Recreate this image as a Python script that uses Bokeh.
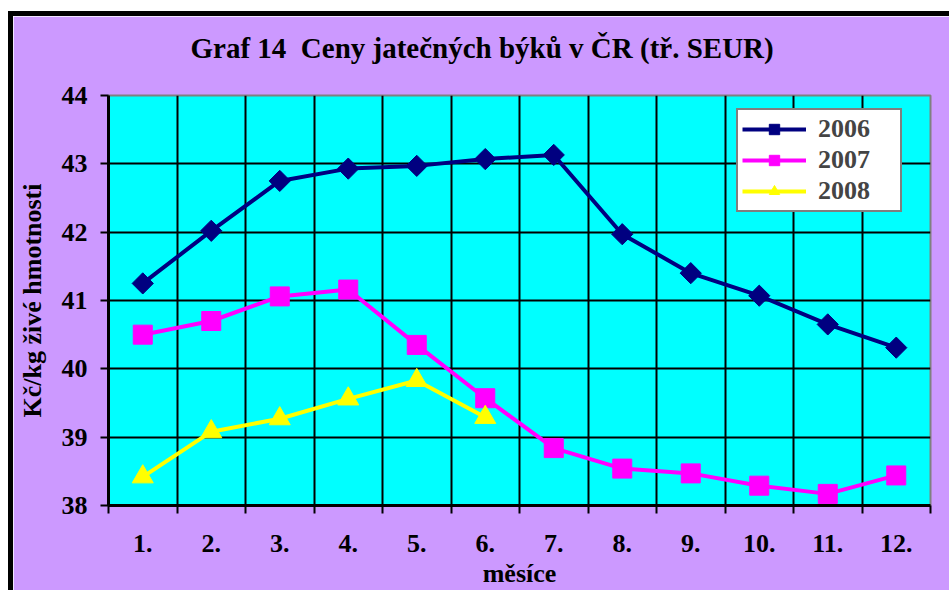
from bokeh.plotting import figure
from bokeh.models import FixedTicker, Legend, LegendItem, Range1d, Title
from bokeh.embed import file_html
from bokeh.resources import INLINE
import math

months = [1, 2, 3, 4, 5, 6, 7, 8, 9, 10, 11, 12]
month_labels = ["1.", "2.", "3.", "4.", "5.", "6.", "7.", "8.", "9.", "10.", "11.", "12."]
y2006 = [41.25, 42.02, 42.75, 42.93, 42.97, 43.07, 43.13, 41.97, 41.40, 41.07, 40.65, 40.31]
y2007 = [40.50, 40.70, 41.06, 41.16, 40.35, 39.57, 38.84, 38.54, 38.47, 38.29, 38.17, 38.44]
months2008 = [1, 2, 3, 4, 5, 6]
y2008 = [38.42, 39.08, 39.27, 39.56, 39.83, 39.29]
y_ticks = [38, 39, 40, 41, 42, 43, 44]

FONT = "Liberation Serif"
BG = "#CC99FF"

p = figure(width=936, height=574, output_backend="svg", toolbar_location=None,
           x_range=Range1d(0.5, 12.5), y_range=Range1d(38, 44),
           min_border_left=95, min_border_right=24, min_border_top=79, min_border_bottom=90)
p.styles = {"border-left": "5px solid black", "border-top": "5px solid black",
            "margin-left": "8px", "margin-top": "11px", "box-sizing": "content-box"}

p.background_fill_color = "#00FFFF"
p.border_fill_color = BG
p.outline_line_color = "#808080"
p.outline_line_width = 2

# real title (outermost panel)
p.title.text = "Graf 14\u00a0 Ceny jatečných býků v ČR (tř. SEUR)"
p.title.text_font = FONT
p.title.text_font_style = "bold"
p.title.text_font_size = "29px"
p.title.text_color = "black"
p.title.align = "left"
p.title.offset = 82
p.title.standoff = 25

# blank spacer panel between the frame and the title
p.add_layout(Title(text="\u00a0", text_color=BG, text_font_size="8px", standoff=8), "above")

# grid
boundaries = [m + 0.5 for m in [0] + months]
p.xgrid.ticker = FixedTicker(ticks=boundaries)
p.ygrid.ticker = FixedTicker(ticks=y_ticks)
for g in (p.xgrid, p.ygrid):
    g.grid_line_color = "black"
    g.grid_line_width = 2
    g.grid_line_alpha = 1

# x axis
xa = p.xaxis[0]
xa.ticker = FixedTicker(ticks=months, minor_ticks=boundaries)
xa.major_label_overrides = {m: l for m, l in zip(months, month_labels)}
xa.major_tick_line_color = None
xa.major_tick_out = 0
xa.major_tick_in = 0
xa.minor_tick_line_color = "black"
xa.minor_tick_line_width = 2
xa.minor_tick_out = 8
xa.minor_tick_in = 0
xa.major_label_standoff = 21
xa.axis_label = "měsíce"
xa.axis_label_standoff = 4

ya = p.yaxis[0]
ya.ticker = FixedTicker(ticks=y_ticks)
ya.minor_tick_line_color = None
ya.major_tick_out = 8
ya.major_tick_in = 0
ya.major_tick_line_width = 2
ya.major_tick_line_color = "black"
ya.major_label_standoff = 13
ya.axis_label = "Kč/kg živé hmotnosti"
ya.axis_label_standoff = 12

for ax in (xa, ya):
    ax.axis_line_color = "black"
    ax.axis_line_width = 3
    ax.major_label_text_font = FONT
    ax.major_label_text_font_style = "bold"
    ax.major_label_text_font_size = "26px"
    ax.major_label_text_color = "black"
    ax.axis_label_text_font = FONT
    ax.axis_label_text_font_style = "bold"
    ax.axis_label_text_color = "black"
xa.axis_label_text_font_size = "26px"
ya.axis_label_text_font_size = "26px"

l1 = p.line(months, y2006, line_color="#000080", line_width=4)
m1 = p.scatter(months, y2006, marker="square", size=15, angle=math.pi / 4,
               fill_color="#000080", line_color="#000080")
l2 = p.line(months, y2007, line_color="#FF00FF", line_width=4)
m2 = p.scatter(months, y2007, marker="square", size=19,
               fill_color="#FF00FF", line_color="#FF00FF")
l3 = p.line(months2008, y2008, line_color="#FFFF00", line_width=4)
m3 = p.scatter(months2008, y2008, marker="triangle", size=21,
               fill_color="#FFFF00", line_color="#FFFF00")

legend = Legend(items=[LegendItem(label="2006", renderers=[l1, m1]),
                       LegendItem(label="2007", renderers=[l2, m2]),
                       LegendItem(label="2008", renderers=[l3, m3])],
                location=(628, 293))
legend.label_text_font = FONT
legend.label_text_font_style = "bold"
legend.label_text_font_size = "26px"
legend.glyph_width = 64
legend.glyph_height = 26
legend.label_height = 26
legend.label_standoff = 12
legend.spacing = 1
legend.padding = 4
legend.label_width = 78
legend.border_line_color = "black"
legend.border_line_width = 2
legend.background_fill_color = "white"
legend.background_fill_alpha = 1
p.add_layout(legend, "center")

open("out.html", "w").write(file_html(p, INLINE))
